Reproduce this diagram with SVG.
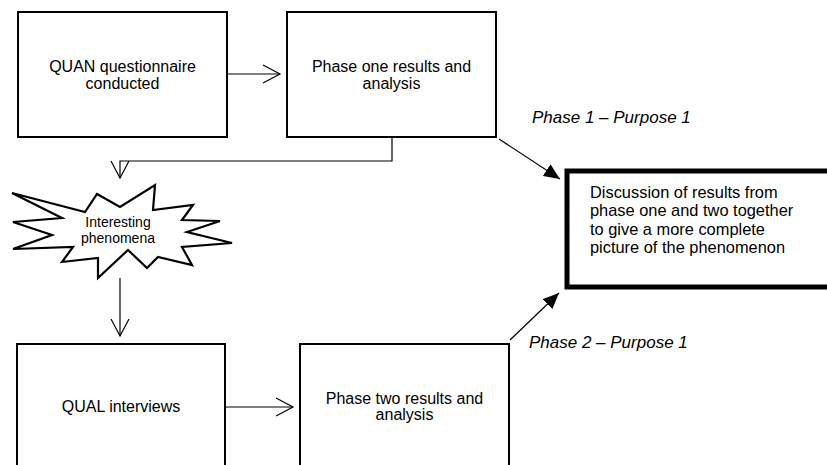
<svg xmlns="http://www.w3.org/2000/svg" width="827" height="465" viewBox="0 0 827 465">
  <style>
    .box { fill: #fff; stroke: #000; stroke-width: 2; }
    .main { fill: #fff; stroke: #000; stroke-width: 5; }
    .star { fill: #fff; stroke: #000; stroke-width: 2.2; stroke-linejoin: miter; }
    .lbl { font-family: "Liberation Sans", Arial, sans-serif; font-size: 16px; fill: #000; }
    .c { text-anchor: middle; }
    .small { font-size: 14px; }
    .body { font-size: 16.4px; }
    .it { font-style: italic; font-size: 17px; }
    .link { fill: none; stroke: #000; stroke-width: 1.2; }
  </style>
  <defs>
    <marker id="open" viewBox="0 0 20 20" refX="18" refY="10" markerWidth="20" markerHeight="20" markerUnits="userSpaceOnUse" orient="auto">
      <polyline points="1,1 18,10 1,19" fill="none" stroke="#000" stroke-width="1.2"/>
    </marker>
    <marker id="solid" viewBox="0 0 16 14" refX="16" refY="7" markerWidth="16" markerHeight="14" markerUnits="userSpaceOnUse" orient="auto">
      <polygon points="0,0 16,7 0,14" fill="#000"/>
    </marker>
  </defs>

  <!-- connectors -->
  <g id="connectors">
    <line class="link" x1="227" y1="74" x2="280" y2="74" marker-end="url(#open)"/>
    <polyline class="link" points="392,137 392,161 120,161 120,178" marker-end="url(#open)"/>
    <line class="link" x1="120" y1="278" x2="120" y2="336" marker-end="url(#open)"/>
    <line class="link" x1="225" y1="407" x2="293" y2="407" marker-end="url(#open)"/>
    <line class="link" x1="499" y1="139" x2="560" y2="179" marker-end="url(#solid)"/>
    <line class="link" x1="510" y1="340" x2="559" y2="293" marker-end="url(#solid)"/>
  </g>

  <g id="quan">
    <rect class="box" x="18" y="12" width="209" height="125"/>
    <text class="lbl c" x="122.5" y="72">QUAN questionnaire</text>
    <text class="lbl c" x="122.5" y="89">conducted</text>
  </g>

  <g id="phase-one">
    <rect class="box" x="287" y="12" width="209" height="125"/>
    <text class="lbl c" x="391.5" y="72">Phase one results and</text>
    <text class="lbl c" x="391.5" y="89">analysis</text>
  </g>

  <g id="phenomena">
    <polygon class="star" points="12,193 85,212 97,194 120,207 155,185 153,210 193,205 182,220 220,221 187,232 232,243 182,247 192,265 158,257 147,268 128,250 98,278 98,258 62,262 73,247 13,249 52,235 13,222 62,218"/>
    <text class="lbl small c" x="118" y="227">Interesting</text>
    <text class="lbl small c" x="118" y="243">phenomena</text>
  </g>

  <g id="qual">
    <rect class="box" x="17" y="344" width="208" height="140"/>
    <text class="lbl c" x="121" y="412">QUAL interviews</text>
  </g>

  <g id="phase-two">
    <rect class="box" x="300" y="344" width="209" height="140"/>
    <text class="lbl c" x="404.5" y="404">Phase two results and</text>
    <text class="lbl c" x="404.5" y="420">analysis</text>
  </g>

  <g id="discussion">
    <rect class="main" x="567" y="171" width="280" height="116"/>
    <text class="lbl body" x="590" y="198">Discussion of results from</text>
    <text class="lbl body" x="590" y="216.4">phase one and two together</text>
    <text class="lbl body" x="590" y="234.8">to give a more complete</text>
    <text class="lbl body" x="590" y="253.2">picture of the phenomenon</text>
  </g>

  <g id="labels">
    <text class="lbl it" x="532" y="123">Phase 1 – Purpose 1</text>
    <text class="lbl it" x="529" y="348">Phase 2 – Purpose 1</text>
  </g>
</svg>
